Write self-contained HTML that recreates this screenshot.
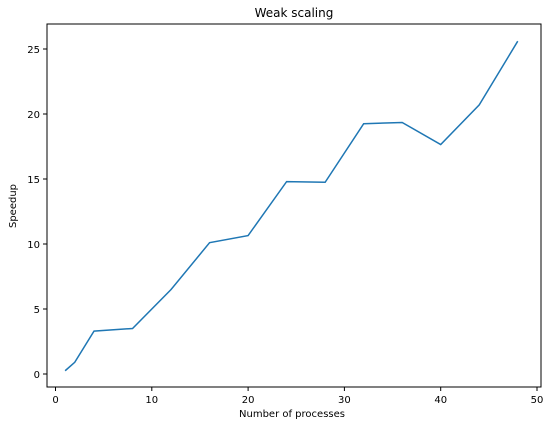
<!DOCTYPE html>
<html><head><meta charset="utf-8"><style>
body{margin:0;background:#fff;width:551px;height:427px;overflow:hidden}
svg text{font-family:"DejaVu Sans","Liberation Sans",sans-serif;fill:#000}
</style></head><body>
<svg id="chart" width="551" height="427">
<text x="294" y="17" font-size="12" text-anchor="middle">Weak scaling</text>
<rect x="47" y="24" width="494" height="363" fill="none" stroke="#000" stroke-width="1"/>
<g id="xt"></g><g id="yt"></g>
<text x="292" y="417" font-size="10" text-anchor="middle">Number of processes</text>
<text transform="translate(16,206) rotate(-90)" font-size="10" text-anchor="middle">Speedup</text>
<path id="line" fill="none" stroke="#1f77b4" stroke-width="1.5"/>
</svg>
<script>
const procs=[1,2,4,8,12,16,20,24,28,32,36,40,44,48];
const speedup=[0.25,0.9,3.3,3.5,6.5,10.1,10.65,14.8,14.75,19.25,19.35,17.65,20.7,25.6];
const xTicks=[0,10,20,30,40,50];
const yTicks=[0,5,10,15,20,25];
const sx=v=>55.5+v*9.63;
const sy=v=>374-v*13;
const NS="http://www.w3.org/2000/svg";
const xt=document.getElementById('xt'),yt=document.getElementById('yt');
xTicks.forEach(t=>{
 const l=document.createElementNS(NS,'line');
 l.setAttribute('x1',sx(t));l.setAttribute('x2',sx(t));l.setAttribute('y1',387);l.setAttribute('y2',391);l.setAttribute('stroke','#000');
 
 
 xt.appendChild(l);
 const s=document.createElementNS(NS,'text');
 s.setAttribute('x',sx(t));s.setAttribute('y',403);s.setAttribute('font-size','10');s.setAttribute('text-anchor','middle');s.textContent=t;
 
 
 xt.appendChild(s);
});
yTicks.forEach(t=>{
 const l=document.createElementNS(NS,'line');
 l.setAttribute('x1',43);l.setAttribute('x2',47);l.setAttribute('y1',sy(t));l.setAttribute('y2',sy(t));l.setAttribute('stroke','#000');
 
 
 yt.appendChild(l);
 const s=document.createElementNS(NS,'text');
 s.setAttribute('x',40);s.setAttribute('y',sy(t)+4);s.setAttribute('font-size','10');s.setAttribute('text-anchor','end');s.textContent=t;
 
 
 yt.appendChild(s);
});
document.getElementById('line').setAttribute('d',procs.map((p,i)=>(i?'L':'M')+sx(p)+','+sy(speedup[i])).join(' '));
</script>
</body></html>
